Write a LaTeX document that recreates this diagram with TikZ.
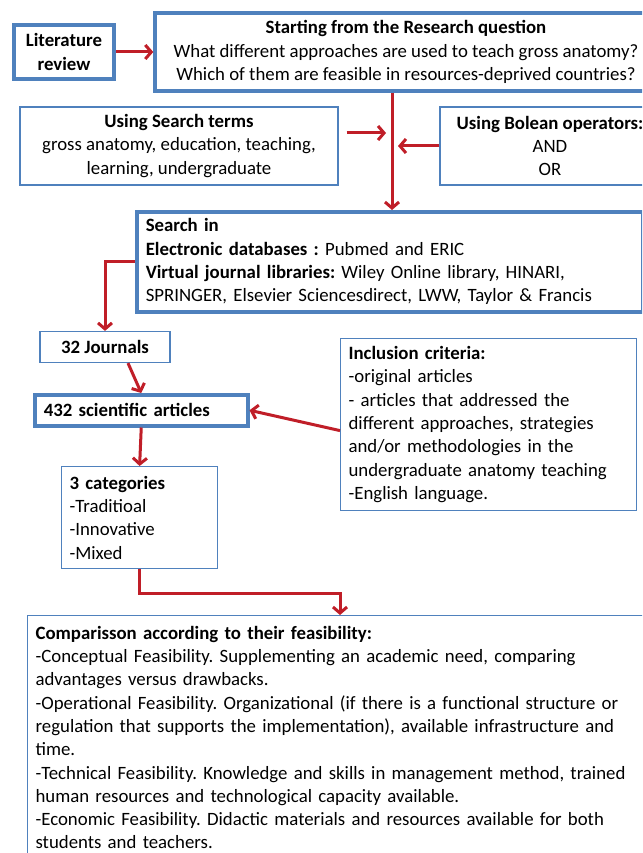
\documentclass[tikz,border=0pt]{standalone}
\usepackage{fontspec}
\setmainfont{Carlito}
\frenchspacing
\usepackage{tikz}
\usetikzlibrary{arrows.meta}
\definecolor{BoxBlue}{RGB}{79, 129, 189}
\definecolor{FlowRed}{RGB}{192, 30, 40}
\tikzset{
  every node/.style={font=\fontsize{18.8}{23.3}\selectfont},
  thickbox/.style={draw=BoxBlue, line width=3.5pt, fill=white, inner xsep=9pt, inner ysep=0pt},
  thinbox/.style={draw=BoxBlue, line width=1.2pt, fill=white, inner xsep=8pt, inner ysep=0pt},
  flow/.style={draw=FlowRed, line width=3pt, -{Straight Barb[length=6pt,width=14pt]}}
}
\begin{document}
\begin{tikzpicture}[x=1pt,y=-1pt]
\useasboundingbox (0,0) rectangle (642,853);
\clip (0,0) rectangle (642,853);
\node[thickbox, minimum width=100pt, minimum height=54pt, align=center] (litrev) at (64,52) {\textbf{Literature}\\\textbf{review}};
\node[thickbox, minimum width=502pt, minimum height=78pt, align=center] (question) at (406,52) {\textbf{Starting from the Research question}\\What different approaches are used to teach gross anatomy?\\Which of them are feasible in resources-deprived countries?};
\node[thinbox, minimum width=318pt, minimum height=78pt, align=center] (terms) at (179,146) {\textbf{Using Search terms}\\gross anatomy, education, teaching,\\learning, undergraduate};
\node[thinbox, minimum width=220pt, minimum height=78pt, align=center] (bolean) at (550,146) {\textbf{Using Bolean operators:}\\AND\\OR};
\node[thickbox, anchor=north west, text width=488pt, minimum height=100pt, align=left] (search) at (135,210) {\textbf{Search in}\\\textbf{Electronic databases :} Pubmed and ERIC\\\textbf{Virtual journal libraries:} Wiley Online library, HINARI,\\SPRINGER, Elsevier Sciencesdirect, LWW, Taylor \& Francis};
\node[thinbox, minimum width=130pt, minimum height=31pt] (journals) at (105,347) {\textbf{32 Journals}};
\node[thickbox, anchor=north west, text width=195pt, minimum height=31pt, align=left] (articles) at (33,393) {\textbf{432 scientific articles}};
\node[thinbox, anchor=north west, text width=280pt, minimum height=172pt, align=left] (criteria) at (340,338) {\textbf{Inclusion criteria:}\\-original articles\\- articles that addressed the\\different approaches, strategies\\and/or methodologies in the\\undergraduate anatomy teaching\\-English language.};
\node[thinbox, anchor=north west, text width=140pt, minimum height=102pt, align=left] (categories) at (61,466) {\textbf{3 categories}\\-Traditioal\\-Innovative\\-Mixed};
\node[thinbox, anchor=north west, text width=640pt, minimum height=244pt, align=left] (comparison) at (27,615) {\textbf{Comparisson according to their feasibility:}\\-Conceptual Feasibility. Supplementing an academic need, comparing\\advantages versus drawbacks.\\-Operational Feasibility. Organizational (if there is a functional structure or\\regulation that supports the implementation), available infrastructure and\\time.\\-Technical Feasibility. Knowledge and skills in management method, trained\\human resources and technological capacity available.\\-Economic Feasibility. Didactic materials and resources available for both\\students and teachers.};
\coordinate (trunk) at (392,0);
\coordinate (tin) at (386,133);
\coordinate (boin) at (398,147);
\draw[flow] (litrev.east) -- (question.west);
\draw[flow] (question.south -| trunk) -- (search.north -| trunk);
\draw[flow] ([xshift=8pt]terms.east |- tin) -- (tin);
\draw[flow] (bolean.west) -- (boin |- bolean.west);
\draw[flow] (search.west) -| (journals.north);
\draw[flow] ([xshift=23pt]journals.south) -- (articles.north);
\draw[flow] ([yshift=-6pt]criteria.west) -- (articles.east);
\draw[flow] (articles.south) -- (categories.north);
\draw[flow] (categories.south) -- ++(0,24) -| (comparison.north -| criteria.west);
\end{tikzpicture}
\end{document}
